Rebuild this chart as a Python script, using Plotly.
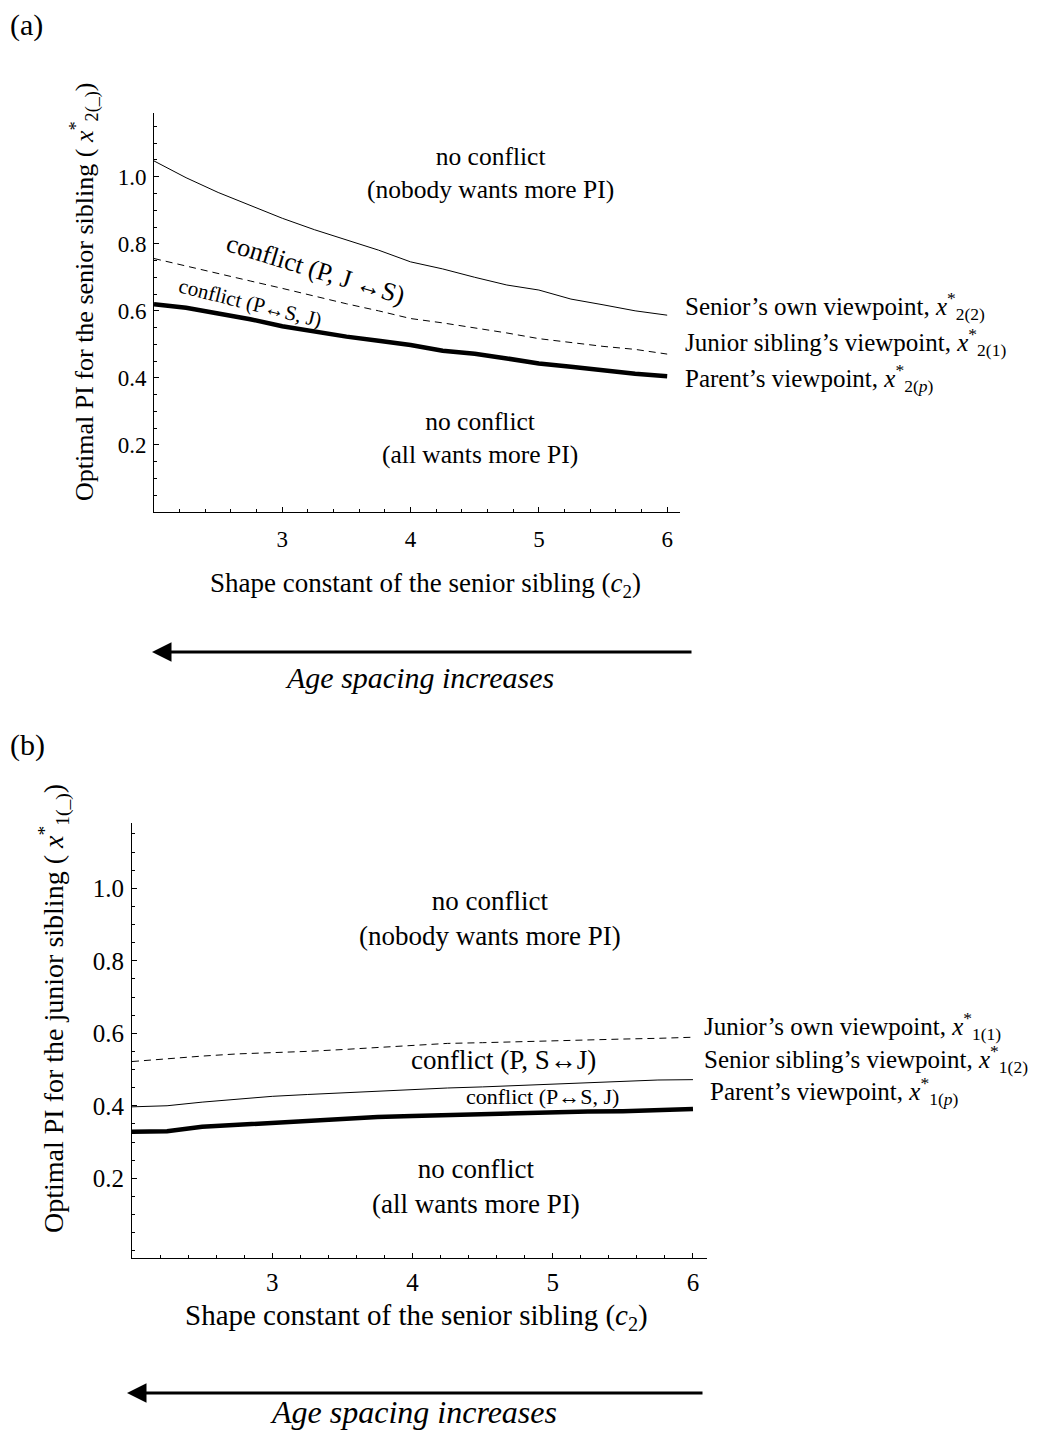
import plotly.graph_objects as go

# reference canvas and the page's default 8px body margin
REF_W, REF_H = 1041, 1434
OFF = 8
W, H = REF_W - OFF, REF_H - OFF
FONT = "Liberation Serif"

# ---------------- data ----------------
c2 = [2.0, 2.25, 2.5, 2.75, 3.0, 3.25, 3.5, 3.75, 4.0, 4.25, 4.5, 4.75, 5.0, 5.25, 5.5, 5.75, 6.0]

# panel (a): optimal PI for the senior sibling
a_senior_own = [1.047, 0.997, 0.953, 0.915, 0.876, 0.842, 0.812, 0.781, 0.746, 0.725, 0.700, 0.677, 0.662, 0.635, 0.618, 0.600, 0.587]
a_junior_view = [0.756, 0.733, 0.710, 0.689, 0.667, 0.643, 0.621, 0.600, 0.577, 0.564, 0.550, 0.534, 0.517, 0.505, 0.494, 0.485, 0.471]
a_parent_view = [0.620, 0.609, 0.592, 0.575, 0.554, 0.538, 0.523, 0.511, 0.498, 0.481, 0.472, 0.458, 0.443, 0.433, 0.422, 0.412, 0.405]

# panel (b): optimal PI for the junior sibling
b_junior_own = [0.522, 0.530, 0.537, 0.543, 0.546, 0.550, 0.555, 0.561, 0.567, 0.572, 0.574, 0.577, 0.579, 0.581, 0.584, 0.586, 0.589]
b_senior_view = [0.397, 0.400, 0.410, 0.418, 0.426, 0.431, 0.436, 0.441, 0.446, 0.449, 0.452, 0.456, 0.461, 0.465, 0.469, 0.471, 0.472]
b_parent_view = [0.328, 0.330, 0.342, 0.348, 0.354, 0.360, 0.365, 0.369, 0.372, 0.375, 0.378, 0.380, 0.382, 0.384, 0.385, 0.388, 0.391]

x_ticks = [3, 4, 5, 6]
y_ticks = [0.2, 0.4, 0.6, 0.8, 1.0]


def px(x):
    return (x - OFF) / W


def py(y):
    return 1 - (y - OFF) / H


fig = go.Figure()

DASH = "7px,5px"
# panel (a)
fig.add_trace(go.Scatter(x=c2, y=a_senior_own, mode="lines", line=dict(color="black", width=1), xaxis="x", yaxis="y"))
fig.add_trace(go.Scatter(x=c2, y=a_junior_view, mode="lines", line=dict(color="black", width=1, dash=DASH), xaxis="x", yaxis="y"))
fig.add_trace(go.Scatter(x=c2, y=a_parent_view, mode="lines", line=dict(color="black", width=4.5), xaxis="x", yaxis="y"))
# panel (b)
fig.add_trace(go.Scatter(x=c2, y=b_junior_own, mode="lines", line=dict(color="black", width=1, dash=DASH), xaxis="x2", yaxis="y2"))
fig.add_trace(go.Scatter(x=c2, y=b_senior_view, mode="lines", line=dict(color="black", width=1), xaxis="x2", yaxis="y2"))
fig.add_trace(go.Scatter(x=c2, y=b_parent_view, mode="lines", line=dict(color="black", width=4.5), xaxis="x2", yaxis="y2"))


def xaxis_cfg(domain, anchor, fsize, standoff):
    return dict(domain=domain, anchor=anchor, range=[2, 6.1], tickvals=x_ticks,
                ticktext=[str(v) for v in x_ticks], ticks="inside", ticklen=5, tickwidth=1,
                tickcolor="black", showline=True, linecolor="black", linewidth=1,
                showgrid=False, zeroline=False,
                tickfont=dict(family=FONT, size=fsize, color="black"), ticklabelstandoff=standoff,
                minor=dict(dtick=0.2, tick0=2, ticks="inside", ticklen=3, tickcolor="black", showgrid=False))


def yaxis_cfg(domain, anchor, rng, fsize):
    return dict(domain=domain, anchor=anchor, range=rng, tickvals=y_ticks,
                ticktext=["%.1f" % v for v in y_ticks], ticks="inside", ticklen=5, tickwidth=1,
                tickcolor="black", showline=True, linecolor="black", linewidth=1,
                showgrid=False, zeroline=False,
                tickfont=dict(family=FONT, size=fsize, color="black"), ticklabelstandoff=2,
                minor=dict(dtick=0.05, tick0=0, ticks="inside", ticklen=3, tickcolor="black", showgrid=False))


fig.update_layout(
    width=W, height=H, margin=dict(l=0, r=0, t=0, b=0),
    paper_bgcolor="white", plot_bgcolor="white", showlegend=False,
    font=dict(family=FONT, color="black"),
    xaxis=xaxis_cfg([px(154), px(680)], "y", 23, 6),
    yaxis=yaxis_cfg([py(512), py(113)], "x", [0, 1.19], 23),
    xaxis2=xaxis_cfg([px(132), px(707)], "y2", 25, 2),
    yaxis2=yaxis_cfg([py(1258), py(823)], "x2", [-0.02, 1.18], 25),
)

ann = []


def txt(text, x, y, size, xref="paper", yref="paper", xanchor="center", yanchor="middle", angle=0, italic=False):
    if italic:
        text = "<i>" + text + "</i>"
    ann.append(dict(text=text, x=x, y=y, xref=xref, yref=yref, xanchor=xanchor, yanchor=yanchor,
                    showarrow=False, textangle=angle, font=dict(family=FONT, size=size, color="black")))


# ----- panel (a) -----
txt("(a)", px(8), py(25), 30, xanchor="left")
txt("no conflict<br>(nobody wants more PI)", 4.62, 1.012, 25.5, xref="x", yref="y")
txt("conflict (P, J \u2194S)", 3.26, 0.722, 26, xref="x", yref="y", angle=17)
txt("conflict (P\u2194S, J)", 2.75, 0.622, 21, xref="x", yref="y", angle=14)
txt("no conflict<br>(all wants more PI)", 4.54, 0.222, 25.5, xref="x", yref="y")
txt("Senior\u2019s own viewpoint, <i>x</i><sup>*</sup><sub>2(2)</sub>", px(683), py(306), 25, xanchor="left")
txt("Junior sibling\u2019s viewpoint, <i>x</i><sup>*</sup><sub>2(1)</sub>", px(683), py(342), 25, xanchor="left")
txt("Parent\u2019s viewpoint, <i>x</i><sup>*</sup><sub>2(<i>p</i>)</sub>", px(683), py(378), 25, xanchor="left")
txt("Shape constant of the senior sibling (<i>c</i><sub>2</sub>)", px(425), py(585), 27)
txt("Optimal PI for the senior sibling ( <i>x</i><sup>*</sup><sub>2(_)</sub>)", px(85), py(292), 26, angle=-90)
txt("Age spacing increases", px(419), py(677), 30, italic=True)

# ----- panel (b) -----
txt("(b)", px(8), py(745), 30, xanchor="left")
txt("no conflict<br>(nobody wants more PI)", 4.55, 0.917, 27, xref="x2", yref="y2")
txt("conflict (P, S\u2194J)", 4.65, 0.525, 27, xref="x2", yref="y2")
txt("conflict (P\u2194S, J)", 4.93, 0.426, 22, xref="x2", yref="y2")
txt("no conflict<br>(all wants more PI)", 4.45, 0.178, 27, xref="x2", yref="y2")
txt("Junior\u2019s own viewpoint, <i>x</i><sup>*</sup><sub>1(1)</sub>", px(702), py(1026), 25, xanchor="left")
txt("Senior sibling\u2019s viewpoint, <i>x</i><sup>*</sup><sub>1(2)</sub>", px(702), py(1059), 25, xanchor="left")
txt("Parent\u2019s viewpoint, <i>x</i><sup>*</sup><sub>1(<i>p</i>)</sub>", px(708), py(1091), 25, xanchor="left")
txt("Shape constant of the senior sibling (<i>c</i><sub>2</sub>)", px(416), py(1317), 29)
txt("Optimal PI for the junior sibling ( <i>x</i><sup>*</sup><sub>1(_)</sub>)", px(54), py(1009), 28, angle=-90)
txt("Age spacing increases", px(413), py(1412), 32, italic=True)

# arrows (head at left end)
for tip, tail, yy in [(152, 693, 652), (127, 704, 1393)]:
    ann.append(dict(x=px(tip), y=py(yy), ax=tail - tip, ay=0, xref="paper", yref="paper",
                    axref="pixel", ayref="pixel", text="", showarrow=True, arrowhead=2,
                    arrowsize=1.3, arrowwidth=3, arrowcolor="black"))

fig.update_layout(annotations=ann)
fig.write_html("out.html")
